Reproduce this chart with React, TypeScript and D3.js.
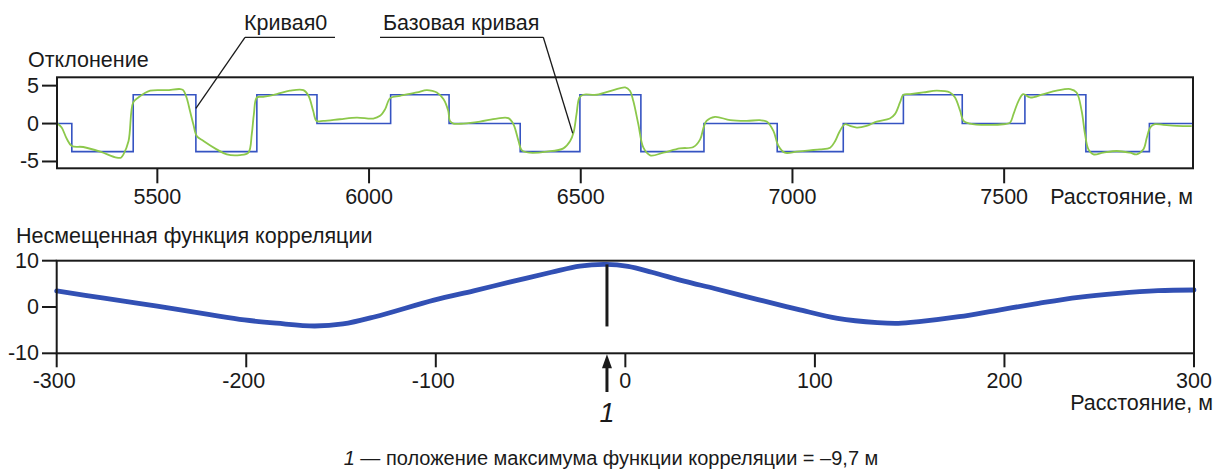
import React from "react";
import * as d3 from "d3";

// ---- Top chart data (Отклонение vs Расстояние) ----
const stepX = [5264, 5298, 5443, 5591, 5735, 5877, 6051, 6189, 6357, 6498, 6642, 6791, 6964, 7120, 7262, 7401, 7549, 7693, 7843, 7946];
const stepLevels = [0, -3.7, 3.8, -3.7, 3.8, 0, 3.8, 0, -3.7, 3.8, -3.7, 0, -3.7, 0, 3.8, 0, 3.8, -3.7, 0];

const greenX = [5264, 5274, 5286, 5298, 5325, 5365, 5404, 5414, 5420, 5432, 5443, 5455, 5483, 5522, 5554, 5561, 5569, 5577, 5585, 5593, 5609, 5640, 5664, 5695, 5715, 5723, 5728, 5735, 5750, 5782, 5813, 5845, 5857, 5868, 5876, 5892, 5931, 5971, 6010, 6026, 6038, 6050, 6073, 6113, 6136, 6150, 6160, 6176, 6187, 6191, 6199, 6223, 6262, 6302, 6329, 6341, 6353, 6361, 6380, 6420, 6459, 6475, 6483, 6490, 6497, 6506, 6538, 6577, 6605, 6616, 6624, 6636, 6648, 6664, 6695, 6734, 6766, 6782, 6790, 6797, 6817, 6853, 6892, 6923, 6939, 6955, 6967, 6982, 7010, 7041, 7065, 7089, 7101, 7112, 7124, 7136, 7152, 7175, 7199, 7230, 7242, 7254, 7262, 7278, 7309, 7341, 7372, 7384, 7396, 7404, 7419, 7459, 7498, 7514, 7522, 7534, 7545, 7561, 7593, 7624, 7656, 7671, 7683, 7691, 7699, 7711, 7734, 7766, 7797, 7813, 7829, 7837, 7845, 7856, 7876, 7908, 7943];
const greenY = [0, -0.53, -2.0, -2.96, -3.09, -3.7, -4.5, -4.5, -4.06, -2.3, 2.78, 3.44, 4.33, 4.41, 4.55, 4.41, 3.44, 1.68, -0.09, -1.63, -2.3, -3.4, -4.06, -4.15, -3.84, -1.41, 1.24, 3.44, 3.53, 3.89, 4.33, 4.41, 3.66, 1.68, 0.35, 0.35, 0.57, 0.79, 0.66, 1.02, 1.9, 3.36, 3.66, 4.1, 4.41, 4.3, 4.1, 3.22, 1.68, 0.35, 0, 0, 0.26, 0.66, 0.71, -0.09, -2.3, -3.53, -3.84, -3.7, -3.27, -2.3, -1.19, 1.24, 3.44, 3.8, 3.8, 4.41, 4.77, 4.33, 3.0, -0.09, -3.18, -4.19, -3.84, -3.27, -3.09, -2.08, -0.53, 0.35, 0.88, 0.44, 0.35, 0.44, 0.26, -0.97, -2.96, -3.84, -3.7, -3.53, -3.4, -3.18, -2.3, -0.97, -0.09, -0.31, -0.53, -0.31, 0.26, 0.66, 1.24, 2.78, 3.8, 3.89, 4.1, 4.33, 4.1, 3.44, 1.68, 0.35, 0, -0.18, -0.09, 0.13, 1.24, 3.0, 3.89, 3.44, 3.89, 4.33, 4.55, 4.1, 1.68, -1.41, -3.4, -4.06, -3.84, -3.62, -3.84, -4.06, -3.4, -1.85, -0.53, -0.09, -0.18, -0.31, -0.35];

const topXTicks = [5500, 6000, 6500, 7000, 7500];
const topYTicks = [5, 0, -5];

// ---- Bottom chart data (Несмещенная функция корреляции) ----
const corrX = [-300, -275, -247, -220, -201, -184, -164, -149, -132, -101, -80, -60, -39, -24, -10, 1.4, 14, 31, 47, 70, 91, 112, 133, 144, 155, 176, 197, 218, 239, 260, 281, 300];
const corrY = [3.46, 1.9, 0.2, -1.6, -2.8, -3.5, -4.1, -3.67, -2.1, 1.5, 3.5, 5.47, 7.5, 8.85, 9.2, 8.75, 7.5, 5.6, 4.0, 1.6, -0.5, -2.45, -3.38, -3.53, -3.17, -2.1, -0.65, 0.8, 2.09, 2.95, 3.52, 3.67];
const botXTicks = [-300, -200, -100, 0, 100, 200, 300];
const botYTicks = [10, 0, -10];
const markerX = -9.7;
const markerTop = 9.2;
const markerBottom = -4.2;

const FONT = "'Liberation Sans', Arial, Helvetica, sans-serif";
const FS = 21.5;
const INK = "#1a1a1a";

const fmt = (t: number) => (t < 0 ? "-" + Math.abs(t) : String(t));

export default function App() {
  const xT = d3.scaleLinear().domain([5263, 7946]).range([57, 1193]);
  const yT = d3.scaleLinear().domain([-5.9, 6.1]).range([168.3, 77.3]);
  const xB = d3.scaleLinear().domain([-300, 300]).range([56.7, 1194]);
  const yB = d3.scaleLinear().domain([-10, 10]).range([353.3, 260.7]);

  const stepPts: [number, number][] = [];
  stepLevels.forEach((lv, i) => {
    stepPts.push([stepX[i], lv]);
    stepPts.push([stepX[i + 1], lv]);
  });
  const stepPath = d3.line<[number, number]>().x(d => xT(d[0])).y(d => yT(d[1]))(stepPts) || "";

  const greenPts = greenX.map((x, i) => [x, greenY[i]] as [number, number]);
  const greenPath = d3.line<[number, number]>().x(d => xT(d[0])).y(d => yT(d[1])).curve(d3.curveCatmullRom.alpha(0.5))(greenPts) || "";

  const corrPts = corrX.map((x, i) => [x, corrY[i]] as [number, number]);
  const corrPath = d3.line<[number, number]>().x(d => xB(d[0])).y(d => yB(d[1])).curve(d3.curveCatmullRom.alpha(0.5))(corrPts) || "";

  const mx = xB(markerX);
  const topFrame = { x0: 57, x1: 1193, y0: 77.3, y1: 168.3 };
  const botFrame = { x0: 56.7, x1: 1194, y0: 260.7, y1: 353.3 };

  const k0 = [xT(5591), yT(2.0)];
  const b0 = [xT(6481), yT(-1.28)];

  return (
    <div style={{ position: "fixed", left: 0, top: 0 }}>
      <svg width={1226} height={470} style={{ display: "block", background: "#fff" }} fontFamily={FONT}>
        {/* ===== Top chart ===== */}
        <text x={28} y={67} fontSize={FS} fill={INK}>Отклонение</text>
        <path d={stepPath} fill="none" stroke="#3553c2" strokeWidth={1.6} />
        <path d={greenPath} fill="none" stroke="#8cc84b" strokeWidth={1.8} />
        <rect x={topFrame.x0} y={topFrame.y0} width={topFrame.x1 - topFrame.x0} height={topFrame.y1 - topFrame.y0} fill="none" stroke={INK} strokeWidth={2} />
        {topYTicks.map(t => (
          <g key={"ty" + t}>
            <line x1={42} x2={topFrame.x0} y1={yT(t)} y2={yT(t)} stroke={INK} strokeWidth={2} />
            <text x={39} y={yT(t)} fontSize={FS} textAnchor="end" dominantBaseline="central" fill={INK}>{fmt(t)}</text>
          </g>
        ))}
        {topXTicks.map(t => (
          <g key={"tx" + t}>
            <line x1={xT(t)} x2={xT(t)} y1={topFrame.y1} y2={topFrame.y1 + 15} stroke={INK} strokeWidth={2} />
            <text x={xT(t)} y={204} fontSize={FS} textAnchor="middle" fill={INK}>{t}</text>
          </g>
        ))}
        <text x={1193} y={204} fontSize={FS} textAnchor="end" fill={INK}>Расстояние, м</text>

        {/* Leaders */}
        <text x={244} y={29.5} fontSize={FS} fill={INK}>Кривая0</text>
        <line x1={245} x2={335} y1={37.3} y2={37.3} stroke={INK} strokeWidth={1.3} />
        <line x1={245} y1={37.3} x2={k0[0]} y2={k0[1]} stroke={INK} strokeWidth={1.3} />
        <text x={383} y={29.5} fontSize={FS} fill={INK}>Базовая кривая</text>
        <line x1={380} x2={543.3} y1={37.3} y2={37.3} stroke={INK} strokeWidth={1.3} />
        <line x1={543.3} y1={37.3} x2={b0[0]} y2={b0[1]} stroke={INK} strokeWidth={1.3} />

        {/* ===== Bottom chart ===== */}
        <text x={16} y={243} fontSize={FS} fill={INK}>Несмещенная функция корреляции</text>
        <path d={corrPath} fill="none" stroke="#3250b4" strokeWidth={4.8} strokeLinecap="round" />
        <rect x={botFrame.x0} y={botFrame.y0} width={botFrame.x1 - botFrame.x0} height={botFrame.y1 - botFrame.y0} fill="none" stroke={INK} strokeWidth={2} />
        {botYTicks.map(t => (
          <g key={"by" + t}>
            <line x1={42} x2={botFrame.x0} y1={yB(t)} y2={yB(t)} stroke={INK} strokeWidth={2} />
            <text x={39} y={yB(t)} fontSize={FS} textAnchor="end" dominantBaseline="central" fill={INK}>{fmt(t)}</text>
          </g>
        ))}
        {botXTicks.map(t => (
          <g key={"bx" + t}>
            <line x1={xB(t)} x2={xB(t)} y1={botFrame.y1} y2={botFrame.y1 + 14} stroke={INK} strokeWidth={2} />
            <text x={xB(t) - (t < 0 ? 2.5 : 0)} y={388} fontSize={FS} textAnchor="middle" fill={INK}>{fmt(t)}</text>
          </g>
        ))}
        <text x={1213} y={410} fontSize={FS} textAnchor="end" fill={INK}>Расстояние, м</text>

        {/* marker line and arrow */}
        <line x1={mx} x2={mx} y1={yB(markerTop)} y2={yB(markerBottom)} stroke={INK} strokeWidth={3} />
        <polygon points={`${mx},${botFrame.y1 + 1} ${mx - 5},${botFrame.y1 + 15} ${mx + 5},${botFrame.y1 + 15}`} fill={INK} />
        <line x1={mx} x2={mx} y1={botFrame.y1 + 12} y2={392} stroke={INK} strokeWidth={3} />
        <text x={mx} y={421.5} fontSize={27} fontStyle="italic" textAnchor="middle" fill={INK}>1</text>

        {/* caption */}
        <text x={611} y={465} fontSize={20} textAnchor="middle" fill={INK}>
          <tspan fontStyle="italic">1</tspan>
          <tspan> — положение максимума функции корреляции = –9,7 м</tspan>
        </text>
      </svg>
    </div>
  );
}
